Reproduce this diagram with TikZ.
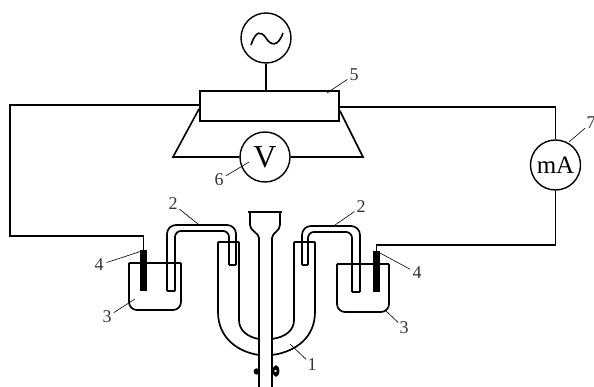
\documentclass[tikz,border=0pt]{standalone}
\usepackage{fontspec}
\usetikzlibrary{calc}
\setmainfont{Liberation Serif}
\tikzset{
  wire/.style={line width=1.6pt},
  glass/.style={line width=1.7pt, line join=round},
  leader/.style={line width=0.6pt},
  meter/.style={circle, draw, line width=1.4pt, fill=white, inner sep=0pt, minimum size=50pt},
  electrode/.style={fill=black, inner sep=0pt, minimum width=7.5pt, minimum height=41pt},
  num/.style={font=\fontsize{18}{18}\selectfont, text=black!80, inner sep=0pt}
}
\begin{document}
\begin{tikzpicture}[x=1pt,y=-1pt]
\useasboundingbox (0,0) rectangle (594,387);
% Generator, block and meters
\node[draw, line width=2pt, minimum width=139pt, minimum height=30pt, inner sep=0pt] (block) at (269.5,106) {};
\node[meter] (source) at (266,38) {};
\node[meter, font=\fontsize{32}{32}\selectfont] (volt) at (265,157) {V};
\node[meter, font=\fontsize{25}{25}\selectfont] (amp) at (555.5,165) {mA};
\draw[wire] (source) -- (source|-block.north);
\draw[line width=1.6pt] (251,45) .. controls (256,30) and (261,31) .. (266,38) .. controls (271,46) and (278,47) .. (283,33);
% Trapezoid round the voltmeter
\coordinate (trapL) at (173,157);
\coordinate (trapR) at (363,157);
\draw[wire, line join=miter] (block.west) ++(0,3) -- (trapL) -- (volt.west);
\draw[wire, line join=miter] (block.east) ++(0,5) -- (trapR) -- (volt.east);
% Electrodes and wires
\node[electrode] (elecL) at (143.5,270.5) {};
\node[electrode] (elecR) at (376.5,271.5) {};
\coordinate (cornerA) at (143.5,236);
\coordinate (cornerB) at (10,236);
\coordinate (cornerC) at (10,105);
\coordinate (cornerD) at (555.5,245);
\coordinate (cornerE) at (376.5,245);
\draw[wire] (elecL.north) -- (cornerA) -- (cornerB) -- (cornerC) -- (block.west|-cornerC);
\draw[wire] (block.east) ++(0,1) -| (amp.north);
\draw[wire] (amp.south) -- (cornerD) -- (cornerE) -- (elecR.north);
% Beakers
\draw[glass, rounded corners=8pt] (129,263) -- (129,310) -- (181,310) -- (181,263);
\draw[glass] (129,263) -- (181,263);
\draw[glass, rounded corners=8pt] (337,264) -- (337,312) -- (389,312) -- (389,264);
\draw[glass] (337,264) -- (389,264);
% Siphon tubes
\draw[glass, rounded corners=9pt] (167,291) -- (167,225) -- (236,225) -- (236,265);
\draw[glass, rounded corners=6pt] (175,291) -- (175,231) -- (229,231) -- (229,265);
\draw[glass] (167,291) -- (175,291) (229,265) -- (236,265);
\draw[glass, rounded corners=9pt] (302,265) -- (302,226) -- (360,226) -- (360,292);
\draw[glass, rounded corners=6pt] (308,265) -- (308,232) -- (352,232) -- (352,292);
\draw[glass] (302,265) -- (308,265) (352,292) -- (360,292);
% U tube
\draw[glass] (218,242) -- (239,242);
\draw[glass] (294,242) -- (315,242);
\draw[glass] (218,242) -- (218,312) .. controls (218,338) and (238,352) .. (259,355);
\draw[glass] (239,242) -- (239,320) .. controls (239,330) and (247,337) .. (259,339);
\draw[glass] (315,242) -- (315,312) .. controls (315,338) and (295,352) .. (272,355);
\draw[glass] (294,242) -- (294,320) .. controls (294,330) and (286,337) .. (272,339);
% Central funnel tube
\draw[glass] (248,212) -- (282,212);
\draw[glass] (250,212) -- (250,225) .. controls (250,231) and (259,233) .. (259,238) -- (259,387);
\draw[glass] (280,212) -- (280,225) .. controls (280,231) and (272,233) .. (272,238) -- (272,387);
% Clamp
\fill (256.5,371.5) ellipse (2.8pt and 3.2pt);
\fill (276,371) ellipse (3.4pt and 5.8pt);
\fill[white] (275.5,371) ellipse (1.6pt and 1pt);
% Numbers and their leaders
\node[num] (numa) at (312,365) {1};
\node[num] (numb) at (173,204) {2};
\node[num] (numc) at (361,207) {2};
\node[num] (numd) at (107,317) {3};
\node[num] (nume) at (404,328) {3};
\node[num] (numf) at (99,265) {4};
\node[num] (numg) at (417,273) {4};
\node[num] (numh) at (354,75) {5};
\node[num] (numi) at (219,180) {6};
\node[num] (numj) at (591,123) {7};
\foreach \lab/\tx/\ty in {numa/290/344, numb/198/224, numc/335/225, numd/135/299, nume/386/311,
                          numf/142/251, numg/380/253, numh/327/93, numi/249/162, numj/569/142} {
    \coordinate (tip) at (\tx,\ty);
    \draw[leader] (tip) -- ($(\lab)!8pt!(tip)$);
}
\end{tikzpicture}
\end{document}
